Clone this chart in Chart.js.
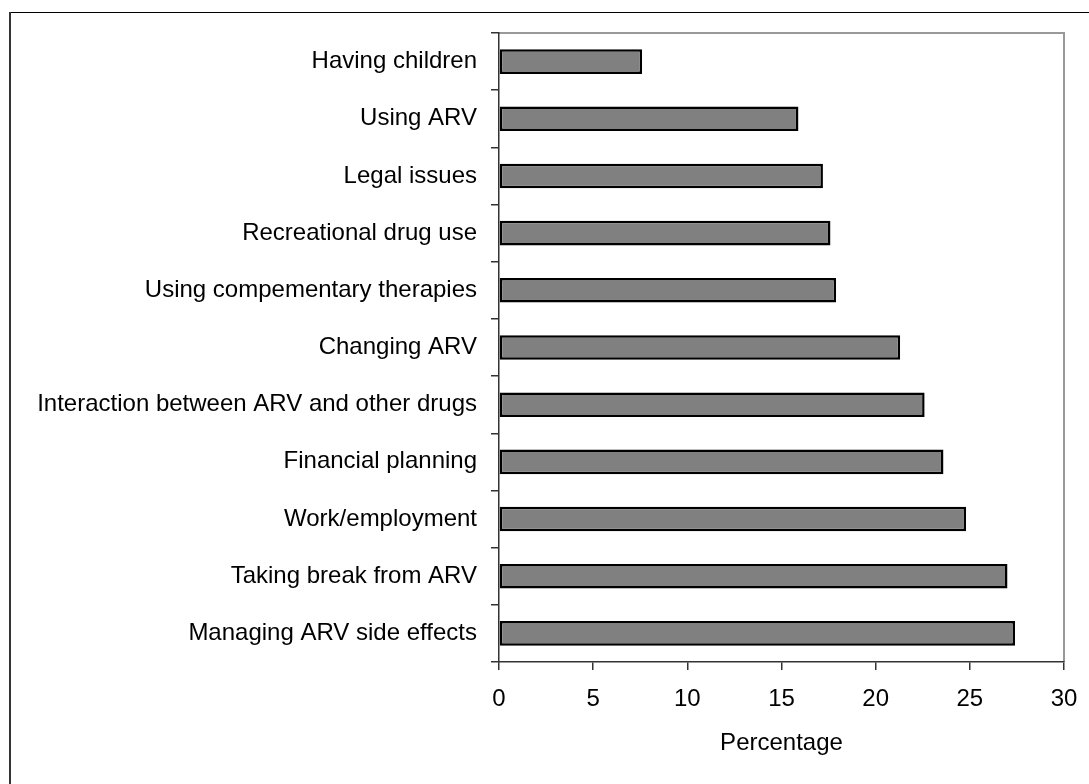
<!DOCTYPE html>
<html lang="en">
<head>
  <meta charset="UTF-8" />
  <title>Percentage</title>
  <style>
    html, body { margin: 0; padding: 0; background: #fff; overflow: hidden; }
    canvas { display: block; }
  </style>
</head>
<body>
  <canvas id="chart" width="1089" height="784"></canvas>
  <script src="https://cdn.jsdelivr.net/npm/chart.js@4/dist/chart.umd.min.js"></script>
  <script>
// data
const categories = [
  'Having children',
  'Using ARV',
  'Legal issues',
  'Recreational drug use',
  'Using compementary therapies',
  'Changing ARV',
  'Interaction between ARV and other drugs',
  'Financial planning',
  'Work/employment',
  'Taking break from ARV',
  'Managing ARV side effects'
]
const percentages = [7.6, 15.9, 17.2, 17.6, 17.9, 21.3, 22.6, 23.6, 24.8, 27.0, 27.4]
const xTicks = [0, 5, 10, 15, 20, 25, 30]

const font = { family: '"Liberation Sans", Arial, sans-serif', size: 24 }

// frame round the picture + grey top/right edge of the plot area
const frame = {
  id: 'frame',
  beforeDraw(chart) {
    const { ctx, chartArea: a } = chart
    ctx.save()
    ctx.strokeStyle = '#000'
    ctx.lineWidth = 1
    ctx.beginPath()
    ctx.moveTo(10, 12.5)
    ctx.lineTo(1100, 12.5)
    ctx.stroke()
    ctx.strokeStyle = '#333'
    ctx.lineWidth = 2
    ctx.beginPath()
    ctx.moveTo(10, 12)
    ctx.lineTo(10, 800)
    ctx.stroke()
    ctx.strokeStyle = '#999'
    ctx.lineWidth = 2
    ctx.beginPath()
    ctx.moveTo(a.left, a.top)
    ctx.lineTo(a.right, a.top)
    ctx.lineTo(a.right, a.bottom)
    ctx.stroke()
    ctx.restore()
  }
}

new Chart(document.getElementById('chart'), {
  type: 'bar',
  data: {
    labels: categories,
    datasets: [{
      data: percentages,
      backgroundColor: '#808080',
      borderColor: '#000',
      borderWidth: 2.5,
      borderSkipped: false,
      barPercentage: 0.43,
      categoryPercentage: 1
    }]
  },
  options: {
    indexAxis: 'y',
    responsive: false,
    animation: false,
    devicePixelRatio: 1,
    layout: { padding: { top: 33, right: 25, left: 0, bottom: 0 } },
    plugins: { legend: { display: false }, tooltip: { enabled: false } },
    scales: {
      x: {
        min: 0,
        max: 30,
        afterFit(s) { s.height = 122; s.paddingLeft = 0; s.paddingRight = 0 },
        afterBuildTicks(s) { s.ticks = xTicks.map(v => ({ value: v })) },
        grid: { drawOnChartArea: false, tickLength: 8, color: '#333', lineWidth: 1.5 },
        border: { color: '#333', width: 1.5 },
        ticks: { color: '#000', font, padding: 15, maxRotation: 0 },
        title: { display: true, text: 'Percentage', color: '#000', font, padding: { top: 4, bottom: 26 } }
      },
      y: {
        afterFit(s) { s.width = 499; s.paddingTop = 0; s.paddingBottom = 0 },
        grid: { drawOnChartArea: false, offset: true, tickLength: 8, color: '#333', lineWidth: 1.5 },
        border: { color: '#333', width: 1.5 },
        ticks: { color: '#000', font, padding: 14, autoSkip: false }
      }
    }
  },
  plugins: [frame]
})
  </script>
</body>
</html>
